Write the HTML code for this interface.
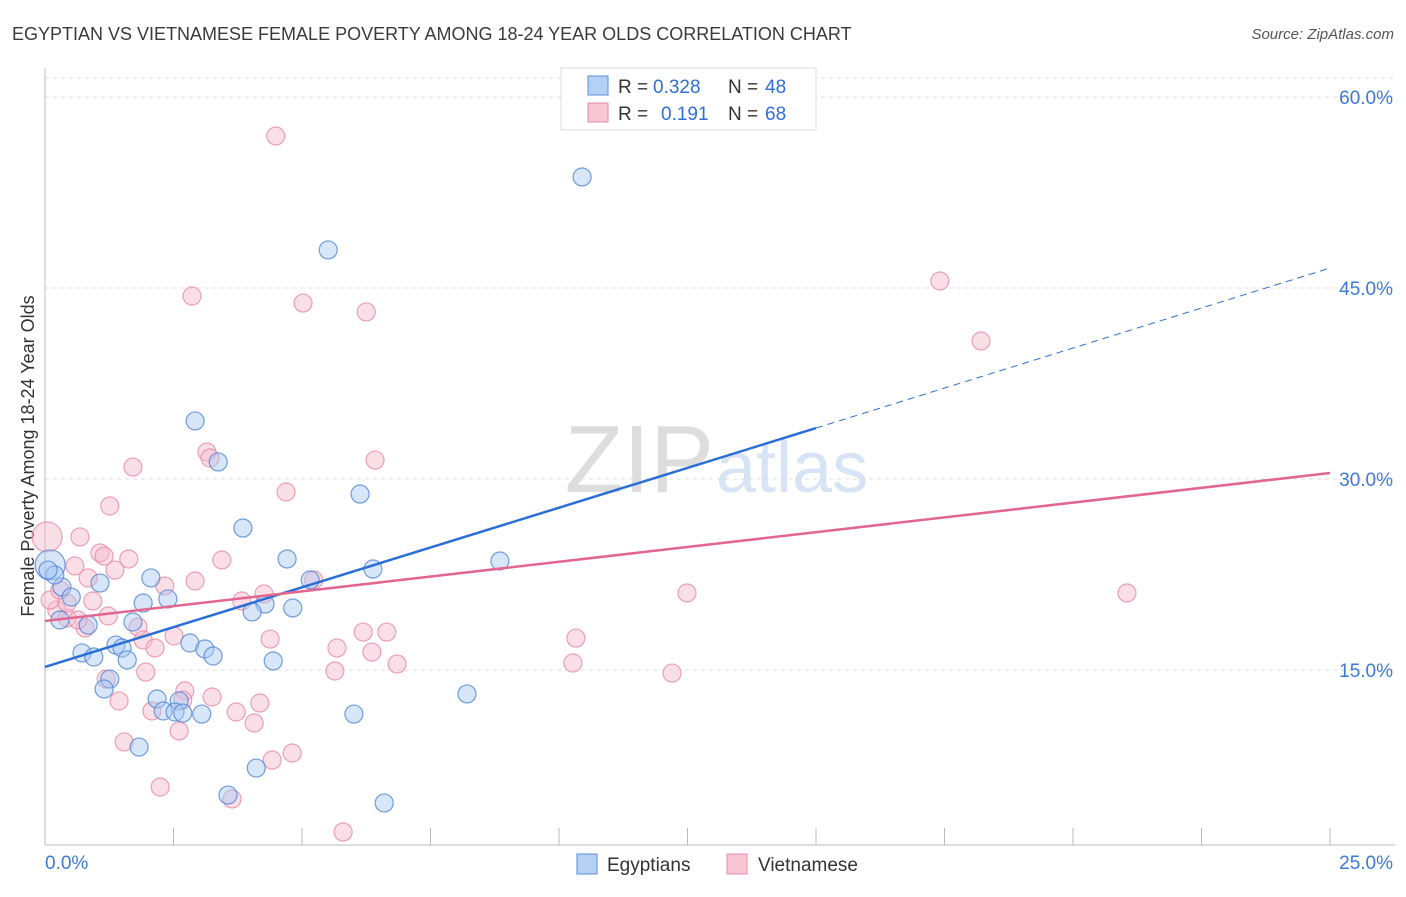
<!DOCTYPE html>
<html><head><meta charset="utf-8"><style>
body{margin:0;background:#fff;font-family:"Liberation Sans",sans-serif;}
svg text{font-family:"Liberation Sans",sans-serif;}
</style></head><body>
<svg id="chart" width="1406" height="892">
<text x="12" y="40" font-size="18" fill="#3a3a3a">EGYPTIAN VS VIETNAMESE FEMALE POVERTY AMONG 18-24 YEAR OLDS CORRELATION CHART</text>
<text x="1394" y="39" font-size="15" fill="#555" font-style="italic" text-anchor="end">Source: ZipAtlas.com</text>
<text x="0" y="0" transform="translate(34,456) rotate(-90)" font-size="18" fill="#333" text-anchor="middle">Female Poverty Among 18-24 Year Olds</text>
<text x="714" y="492" font-size="96" fill="#ddd" font-family="Liberation Serif" text-anchor="end">ZIP</text>
<text x="716" y="492" font-size="72" fill="#d6e4f5">atlas</text>
<g id="grid"></g><g id="axes"></g><g id="pts"></g><g id="lines"></g>
<g>
<rect x="561" y="68" width="255" height="62" fill="#fff" stroke="#ddd"/>
<rect x="588" y="76" width="20" height="19" fill="#b5d0f5" stroke="#5b8fd8"/>
<rect x="588" y="103" width="20" height="19" fill="#f9c6d4" stroke="#e889a8"/>
<text x="618" y="93" font-size="19" fill="#333">R =</text>
<text x="653" y="93" font-size="19" fill="#2f6ed8">0.328</text>
<text x="728" y="93" font-size="19" fill="#333">N =</text>
<text x="765" y="93" font-size="19" fill="#2f6ed8">48</text>
<text x="618" y="120" font-size="19" fill="#333">R =</text>
<text x="661" y="120" font-size="19" fill="#2f6ed8">0.191</text>
<text x="728" y="120" font-size="19" fill="#333">N =</text>
<text x="765" y="120" font-size="19" fill="#2f6ed8">68</text>
</g>
<g>
<rect x="577" y="854" width="20" height="20" fill="#b5d0f5" stroke="#5b8fd8"/>
<text x="607" y="871" font-size="19" fill="#333">Egyptians</text>
<rect x="727" y="854" width="20" height="20" fill="#f9c6d4" stroke="#e889a8"/>
<text x="758" y="871" font-size="19" fill="#333">Vietnamese</text>
</g>
</svg>
<script>
const yTicks=[15,30,45,60];
const blueX=[10.45,5.51,2.92,3.37,6.13,3.85,4.71,8.85,6.38,2.06,1.07,0.33,0.51,2.39,1.91,4.28,4.82,4.03,0.29,0.84,1.71,1.38,1.50,2.82,3.11,0.72,0.95,1.60,3.27,4.44,1.26,1.15,8.21,2.18,2.61,2.30,2.53,2.68,3.05,6.01,1.83,4.11,3.56,6.60,0.10,0.19,0.06,5.16];
const blueY=[53.72,47.99,34.56,31.34,28.82,26.15,23.72,23.56,22.93,22.23,21.83,21.52,20.73,20.58,20.26,20.18,19.87,19.56,18.93,18.53,18.77,16.96,16.73,17.12,16.65,16.34,16.02,15.79,16.10,15.71,14.29,13.51,13.12,12.72,12.57,11.78,11.70,11.62,11.54,11.54,8.95,7.30,5.18,4.56,23.25,22.46,22.85,22.07];
const pinkX=[4.49,2.86,5.02,6.25,17.41,18.21,3.15,3.21,6.42,1.71,4.69,1.26,0.68,0.04,1.07,1.15,1.63,3.44,0.58,1.36,0.84,2.92,2.33,5.23,4.26,3.83,0.93,12.49,21.05,0.23,0.43,1.81,0.78,1.91,2.51,2.14,4.38,10.33,5.68,6.19,6.65,6.36,6.85,10.27,1.96,5.64,12.20,1.19,2.72,3.25,2.68,1.44,4.18,2.08,3.72,2.61,4.07,1.54,4.81,4.42,2.24,3.64,5.80,0.10,0.43,0.64,0.29,1.23];
const pinkY=[56.94,44.37,43.82,43.12,45.55,40.84,32.12,31.65,31.49,30.94,28.98,27.88,25.45,25.45,24.19,23.95,23.72,23.64,23.17,22.85,22.23,21.99,21.60,22.07,20.97,20.42,20.42,21.05,21.05,19.71,19.08,18.38,18.30,17.36,17.67,16.73,17.43,17.51,16.73,17.98,17.98,16.41,15.47,15.55,14.84,14.92,14.76,14.29,13.35,12.88,12.64,12.57,12.41,11.78,11.70,10.21,10.84,9.35,8.48,7.93,5.81,4.87,2.28,20.50,20.26,18.93,21.28,19.24];
const blueLine=[15.24,34.0,46.57];
const pinkLine=[18.85,30.47];
const NS="http://www.w3.org/2000/svg";
const X=v=>45+v*51.4, Y=v=>861-v*12.733;
function mk(t,a,p){const e=document.createElementNS(NS,t);for(const k in a)e.setAttribute(k,a[k]);document.getElementById(p).appendChild(e);return e;}
yTicks.forEach(t=>{
 const l=mk('line',{x1:45,x2:1395,y1:Y(t),y2:Y(t),stroke:'#ddd','stroke-dasharray':'4,4'},'grid');
 
 
 const tx=mk('text',{x:1393,y:Y(t)+7,'font-size':19,fill:'#3d7ad8','text-anchor':'end'},'grid');tx.textContent=t.toFixed(1)+'%';
 
 
});
mk('line',{x1:45,x2:1395,y1:78,y2:78,stroke:'#ddd','stroke-dasharray':'4,4'},'grid');
mk('line',{x1:45,x2:45,y1:68,y2:845,stroke:'#bbb'},'axes');
mk('line',{x1:45,x2:1395,y1:845,y2:845,stroke:'#bbb'},'axes');
for(let i=0;i<=10;i++){mk('line',{x1:X(i*2.5),x2:X(i*2.5),y1:828,y2:845,stroke:'#bbb'},'axes');}
let a=mk('text',{x:45,y:869,'font-size':19,fill:'#3d7ad8'},'axes');a.textContent='0.0%';


a=mk('text',{x:1393,y:869,'font-size':19,fill:'#3d7ad8','text-anchor':'end'},'axes');a.textContent='25.0%';


function dots(xs,ys,fill,stroke,name){xs.forEach((x,i)=>{
 const big=(x<0.2&&((name=='egyptian'&&i==44)||(name=='vietnamese'&&i==13)));
 const c=mk('circle',{cx:X(x),cy:Y(ys[i]),r:big?15:9,fill:fill,'fill-opacity':0.45,stroke:stroke,'stroke-opacity':0.8,'stroke-width':1.2},'pts');
 
 
});}
dots(pinkX,pinkY,'#f7b7ca','#e889a8','vietnamese');
dots(blueX,blueY,'#a9c8f2','#4f86d6','egyptian');
let l=mk('line',{x1:X(0),y1:Y(blueLine[0]),x2:X(15),y2:Y(blueLine[1]),stroke:'#2a6fd6','stroke-width':2.5},'lines');


l=mk('line',{x1:X(15),y1:Y(blueLine[1]),x2:X(25),y2:Y(blueLine[2]),stroke:'#2a6fd6','stroke-width':1,'stroke-dasharray':'7,5'},'lines');


l=mk('line',{x1:X(0),y1:Y(pinkLine[0]),x2:X(25),y2:Y(pinkLine[1]),stroke:'#e2668f','stroke-width':2.5},'lines');


</script>
</body></html>
